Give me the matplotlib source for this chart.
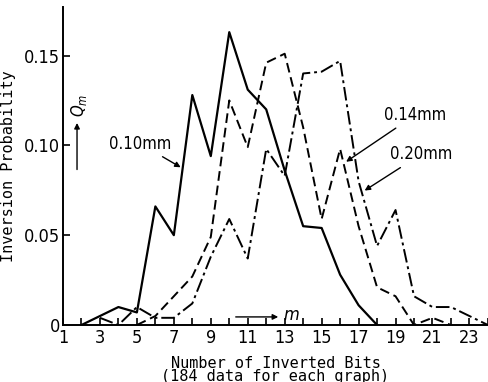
import matplotlib
matplotlib.use('Agg')
import matplotlib.pyplot as plt
from matplotlib import font_manager

# inverted bits m and probability Q_m for each cell size
m_010 = list(range(2, 19))
q_010 = [0, 0.005, 0.01, 0.007, 0.066, 0.05, 0.128, 0.094, 0.163, 0.131,
         0.12, 0.086, 0.055, 0.054, 0.028, 0.011, 0]

m_014 = list(range(5, 23))
q_014 = [0, 0.005, 0.016, 0.027, 0.049, 0.125, 0.099, 0.146, 0.151, 0.11,
         0.059, 0.098, 0.055, 0.021, 0.016, 0, 0.004, 0]

m_020 = list(range(3, 25))
q_020 = [0.004, 0, 0.01, 0.004, 0.004, 0.012, 0.038, 0.059, 0.037, 0.098,
         0.083, 0.14, 0.141, 0.147, 0.08, 0.044, 0.064, 0.016, 0.01, 0.01,
         0.005, 0]

xticks = list(range(1, 24, 2))
yticks = [0, 0.05, 0.10, 0.15]
ytick_labels = ['0', '0.05', '0.10', '0.15']

names = {f.name for f in font_manager.fontManager.ttflist}
narrow = 'Liberation Sans Narrow' if 'Liberation Sans Narrow' in names else 'DejaVu Sans'
plt.rcParams['font.family'] = [narrow, 'DejaVu Sans']
plt.rcParams['font.stretch'] = 'condensed'

fig = plt.figure(figsize=(4.89, 3.82), dpi=100)
ax = fig.add_axes([0.1288, 0.1492, 0.869, 0.8325])

ax.plot(m_010, q_010, color='black', lw=1.6, ls='-')
ax.plot(m_014, q_014, color='black', lw=1.4, ls=(0, (5, 2.5)))
ax.plot(m_020, q_020, color='black', lw=1.4, ls=(0, (7, 2, 1.5, 2)))

ax.set_xlim(1, 24)
ax.set_ylim(0, 0.177)
ax.spines['top'].set_visible(False)
ax.spines['right'].set_visible(False)
ax.spines['left'].set_linewidth(1.4)
ax.spines['bottom'].set_linewidth(1.4)

ax.set_xticks(xticks)
ax.set_xticks(range(1, 25), minor=True)
ax.set_yticks(yticks)
ax.set_yticklabels(ytick_labels)
ax.tick_params(axis='both', direction='in', length=5, width=1.2,
               labelsize=13, colors='black')
ax.tick_params(axis='x', which='minor', direction='in', length=5, width=1.2)
ax.tick_params(axis='x', pad=3)
ax.tick_params(axis='y', pad=2)

ax.set_xlabel('Number of Inverted Bits\n(184 data for each graph)',
              fontsize=11, family='DejaVu Sans Mono', linespacing=0.85,
              labelpad=6)
ax.set_ylabel('Inversion Probability', fontsize=11, family='DejaVu Sans Mono',
              labelpad=6)

arrow = dict(arrowstyle='-|>', color='black', lw=1, mutation_scale=8)
ax.annotate('0.10mm', xy=(7.5, 0.087), xytext=(6.85, 0.101), fontsize=12,
            ha='right', va='center', arrowprops=arrow)
ax.annotate('0.14mm', xy=(16.2, 0.09), xytext=(18.4, 0.117), fontsize=12,
            ha='left', va='center', arrowprops=arrow)
ax.annotate('0.20mm', xy=(17.2, 0.074), xytext=(18.7, 0.095), fontsize=12,
            ha='left', va='center', arrowprops=arrow)

# Q_m and m direction markers
ax.annotate('', xy=(1.76, 0.114), xytext=(1.76, 0.085), arrowprops=arrow)
ax.text(1.85, 0.122, '$Q_m$', rotation=90, fontsize=12, ha='center', va='center')
ax.annotate('', xy=(12.8, 0.0045), xytext=(10.2, 0.0045), arrowprops=arrow)
ax.text(13.35, 0.0055, '$m$', fontsize=13, ha='center', va='center')

fig.savefig('out.png', dpi=100)
